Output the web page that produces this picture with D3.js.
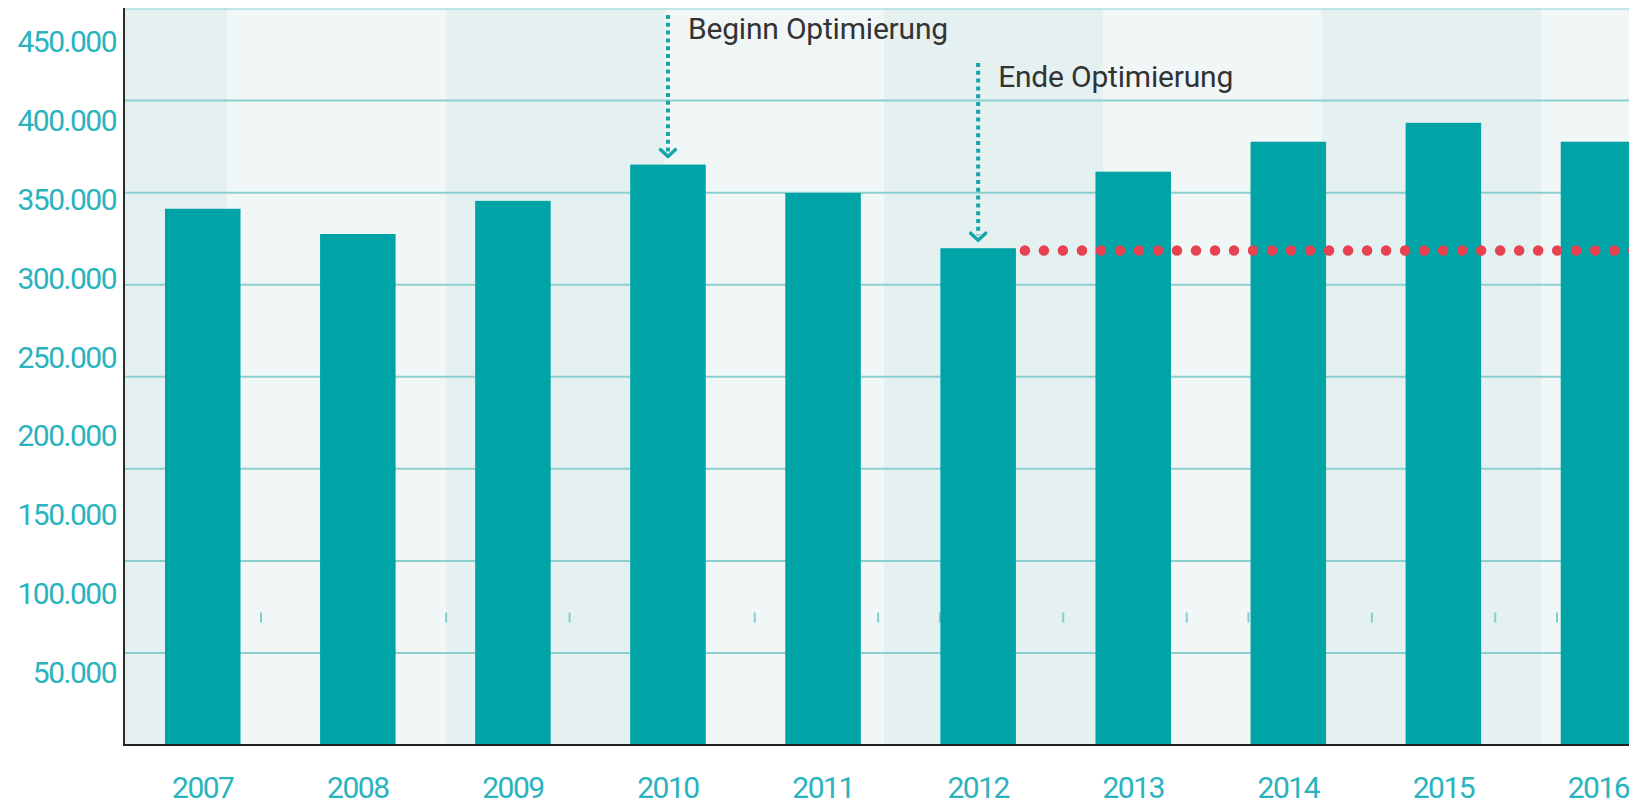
<!DOCTYPE html>
<html>
<head>
<meta charset="utf-8">
<script src="https://cdn.jsdelivr.net/npm/d3@7"></script>
<style>
  html, body { margin: 0; padding: 0; background: #ffffff; }
  svg { display: block; }
</style>
</head>
<body>
<svg id="chart" width="1629" height="805"></svg>
<script>
// ---------------- DATA ----------------
const years = ["2007", "2008", "2009", "2010", "2011", "2012", "2013", "2014", "2015", "2016"];
const values = [340000, 324000, 345000, 368000, 350000, 315000, 363500, 382500, 394500, 382500];
const yTickValues = [50000, 100000, 150000, 200000, 250000, 300000, 350000, 400000, 450000];
const yTickLabels = ["50.000", "100.000", "150.000", "200.000", "250.000", "300.000", "350.000", "400.000", "450.000"];
const annotationYears = ["2010", "2012"];
const annotationTexts = ["Beginn Optimierung", "Ende Optimierung"];
const referenceYear = "2012";

// ---------------- LAYOUT ----------------
const W = 1629, H = 805;
const plotLeft = 124, plotTop = 8.5, plotBottom = 745, plotRight = W;
const gridCount = 8;

const svg = d3.select("#chart");

const x = d3.scaleBand()
  .domain(years)
  .range([125.2, 1676])
  .paddingInner(0.513)
  .paddingOuter(0.2565);

const y = d3.scaleLinear()
  .domain([0, 450000])
  .range([plotBottom, plotBottom - 9 * 78.86]);

const gridY = d3.scaleLinear().domain([0, gridCount]).range([plotBottom, plotTop]);
const stripeX = d3.scaleLinear().domain([0, 6]).range([227, 1541]);
const minorX = d3.scaleLinear().domain([0, 21]).range([261, 1557]);

const valueOf = yr => values[years.indexOf(yr)];

// clip
svg.append("defs").append("clipPath").attr("id", "plotClip")
  .append("rect")
  .attr("x", plotLeft).attr("y", plotTop)
  .attr("width", plotRight - plotLeft).attr("height", plotBottom - plotTop);

const plot = svg.append("g").attr("clip-path", "url(#plotClip)");

// background stripes
plot.append("g").selectAll("rect")
  .data(d3.range(-1, 8))
  .join("rect")
  .attr("x", i => stripeX(i))
  .attr("y", plotTop)
  .attr("width", i => stripeX(i + 1) - stripeX(i))
  .attr("height", plotBottom - plotTop)
  .attr("fill", i => Math.abs(i) % 2 === 1 ? "#e5f1f1" : "#f1f7f7");

// gridlines
plot.append("g").selectAll("line")
  .data(d3.range(1, gridCount + 1))
  .join("line")
  .attr("x1", plotLeft).attr("x2", plotRight)
  .attr("y1", k => gridY(k)).attr("y2", k => gridY(k))
  .attr("stroke", "#8ccfcf")
  .attr("stroke-width", 2);

// small tick marks (mostly hidden behind bars)
plot.append("g").selectAll("line")
  .data(d3.range(0, 23))
  .join("line")
  .attr("x1", k => minorX(k)).attr("x2", k => minorX(k))
  .attr("y1", 612.5).attr("y2", 622.5)
  .attr("stroke", "#86cccc")
  .attr("stroke-width", 2);

// bars
plot.append("g").selectAll("rect")
  .data(years)
  .join("rect")
  .attr("x", d => x(d))
  .attr("y", d => y(valueOf(d)))
  .attr("width", x.bandwidth())
  .attr("height", d => plotBottom - y(valueOf(d)))
  .attr("fill", "#00a4a7");

// reference dotted red line at 2012 level
const refY = y(valueOf(referenceYear)) + 2.3;
svg.append("line")
  .attr("x1", x(referenceYear) + x.bandwidth() + 9)
  .attr("x2", W + 20)
  .attr("y1", refY).attr("y2", refY)
  .attr("stroke", "#e8414f")
  .attr("stroke-width", 10.5)
  .attr("stroke-linecap", "round")
  .attr("stroke-dasharray", "0.01 19");

// annotations
annotationYears.forEach((yr, i) => {
  const cx = x(yr) + x.bandwidth() / 2;
  const top = 15 + i * 48;
  const tip = y(valueOf(yr)) - 8;
  const g = svg.append("g");
  g.append("line")
    .attr("x1", cx).attr("x2", cx)
    .attr("y1", top).attr("y2", tip - 5)
    .attr("stroke", "#17a5aa")
    .attr("stroke-width", 4)
    .attr("stroke-dasharray", "4 3.8");
  g.append("path")
    .attr("d", `M${cx - 7.5},${tip - 7} L${cx},${tip} L${cx + 7.5},${tip - 7}`)
    .attr("fill", "none")
    .attr("stroke", "#17a5aa")
    .attr("stroke-width", 3.5)
    .attr("stroke-linecap", "round")
    .attr("stroke-linejoin", "round");
  g.append("text")
    .attr("x", cx + 20)
    .attr("y", top + 24.3)
    .attr("font-family", "Roboto, 'Open Sans', sans-serif")
    .attr("font-size", 30)
    .attr("letter-spacing", "-0.2px")
    .attr("fill", "#333333")
    .text(annotationTexts[i]);
});

// axes lines
svg.append("line")
  .attr("x1", plotLeft).attr("x2", plotLeft)
  .attr("y1", plotTop - 0.5).attr("y2", plotBottom + 1)
  .attr("stroke", "#2b2b2b").attr("stroke-width", 2);
svg.append("line")
  .attr("x1", plotLeft - 1).attr("x2", W)
  .attr("y1", plotBottom).attr("y2", plotBottom)
  .attr("stroke", "#222222").attr("stroke-width", 2);

// y axis labels
const yAxis = d3.axisLeft(y)
  .tickValues(yTickValues)
  .tickFormat((d, i) => yTickLabels[i])
  .tickSize(0)
  .tickPadding(0);
const gy = svg.append("g")
  .attr("transform", "translate(116,6.7)")
  .call(yAxis);
gy.select(".domain").remove();
gy.attr("font-family", "Roboto, 'Open Sans', sans-serif").attr("font-size", 30);
gy.selectAll("text").attr("fill", "#29b3be").attr("letter-spacing", "-1.5px");

// x axis labels
const xAxis = d3.axisBottom(x).tickSize(0).tickPadding(0);
const gx = svg.append("g")
  .attr("transform", "translate(0,776.5)")
  .call(xAxis);
gx.select(".domain").remove();
gx.attr("font-family", "Roboto, 'Open Sans', sans-serif").attr("font-size", 30);
gx.selectAll("text").attr("fill", "#29b3be").attr("letter-spacing", "-1.5px");
</script>
</body>
</html>
